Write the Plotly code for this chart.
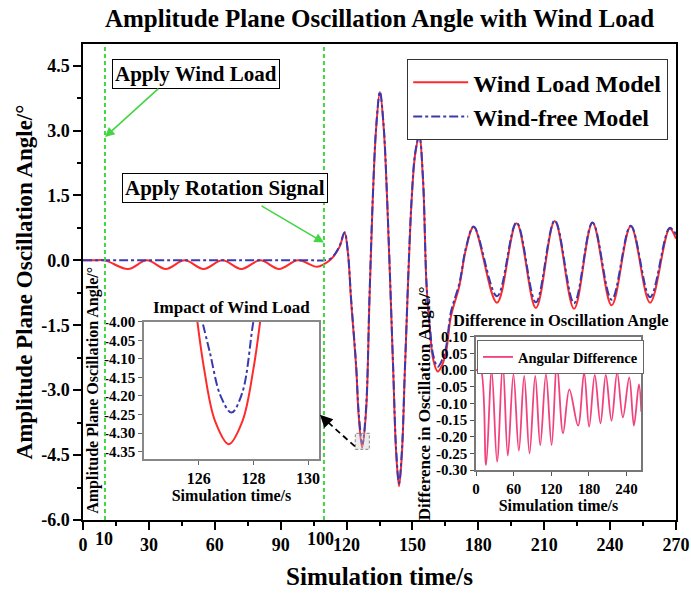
import plotly.graph_objects as go

# ---------------- data ----------------
# Main chart: wind-free model (blue dash-dot)
free_t = [0, 105, 110, 113, 116.7, 119.1, 120.6, 122.1, 124.4, 125.5, 127.2, 128.9, 130.4, 131.9,
          133.5, 135.2, 136.9, 138.5, 141.2, 142.6, 143.9, 145.2, 146.6, 149.6, 151.3, 153.1,
          154.8, 156.4, 157.9, 159.5, 161.5, 163.5, 165.3, 167.5, 171.4, 174.4, 177.9, 188.5,
          197.4, 206.2, 214.8, 223.6, 232.0, 240.7, 249.4, 258.2, 267.1, 270]
free_v = [0, 0, 0, 0.05, 0.32, 0.65, 0.2, -0.91, -2.45, -3.5, -4.245, -3.4, -0.91, 1.4,
          3.1, 3.9, 3.1, 1.4, -2.45, -4.4, -5.15, -4.4, -2.45, 1.4, 2.5, 2.88,
          1.9, -0.52, -1.5, -2.2, -2.46, -2.3, -2.0, -1.2, -0.52, 0.3, 0.78, -0.83,
          0.875, -0.97, 0.92, -0.99, 0.875, -0.91, 0.80, -0.85, 0.75, 0.6]

# Main chart: wind load model (red solid)
wind_t = [0, 5, 10, 20.5, 29.1, 37.7, 46.3, 54.9, 63.5, 72.1, 80.7, 89.3, 97.9, 106.5, 110,
          113, 116.7, 119.1, 120.6, 122.1, 124.4, 125.5, 127.1, 128.9, 130.4, 131.9,
          133.5, 135.2, 136.9, 138.5, 141.2, 142.6, 143.9, 145.2, 146.6, 149.6, 151.3, 153.1,
          154.8, 156.4, 157.9, 159.5, 161.5, 163.5, 165.3, 167.5, 171.4, 174.4, 177.9, 188.5,
          197.4, 206.2, 214.8, 223.6, 232.0, 240.7, 249.4, 258.2, 267.1, 270]
wind_v = [0, 0, 0, -0.2, 0, -0.2, 0, -0.2, 0, -0.2, 0, -0.2, 0, -0.15, -0.08,
          0.03, 0.3, 0.64, 0.18, -0.95, -2.5, -3.58, -4.33, -3.48, -0.97, 1.36,
          3.07, 3.89, 3.07, 1.36, -2.5, -4.47, -5.22, -4.47, -2.5, 1.36, 2.47, 2.87,
          1.86, -0.57, -1.58, -2.3, -2.57, -2.42, -2.12, -1.3, -0.58, 0.27, 0.77, -0.98,
          0.86, -1.1, 0.91, -1.12, 0.87, -1.04, 0.79, -0.98, 0.73, 0.5]

# Left inset (zoom on the trough near 127 s)
zoom_wind_t = [125.8, 126.2, 126.6, 127.1, 127.6, 128.0, 128.4]
zoom_wind_v = [-3.908, -4.128, -4.268, -4.33, -4.268, -4.128, -3.908]
zoom_free_t = [126.0, 126.4, 126.8, 127.2, 127.6, 128.0, 128.2]
zoom_free_v = [-3.96, -4.08, -4.20, -4.245, -4.19, -4.00, -3.93]

# Right inset: angular difference
diff_t = [0, 3, 7.5, 16, 25, 33.6, 42.7, 50.7, 59.7, 68.3, 76.8, 85.3, 94.4, 102.4, 111.5, 120.5,
          129, 138.7, 148.8, 162.7, 172.3, 180.3, 189.3, 198.4, 206.9, 216, 225, 234.1,
          244.3, 251.7, 259.7, 263.5]
diff_v = [0, 0, 0, -0.285, -0.003, -0.275, 0.02, -0.257, -0.013, -0.242, -0.018, -0.25, -0.018,
          -0.225, -0.013, -0.225, 0.018, -0.19, -0.058, -0.167, -0.008, -0.17, -0.015, -0.16,
          -0.015, -0.152, -0.008, -0.142, -0.022, -0.167, -0.043, -0.125]

main_xticks = [0, 30, 60, 90, 120, 150, 180, 210, 240, 270]
main_yticks = [-6.0, -4.5, -3.0, -1.5, 0.0, 1.5, 3.0, 4.5]
main_ytick_labels = ["-6.0", "-4.5", "-3.0", "-1.5", "0.0", "1.5", "3.0", "4.5"]
zoom_xticks = [126, 128, 130]
zoom_yticks = [-4.0, -4.05, -4.1, -4.15, -4.2, -4.25, -4.3, -4.35]
zoom_ytick_labels = ["-4.00", "-4.05", "-4.10", "-4.15", "-4.20", "-4.25", "-4.30", "-4.35"]
diff_xticks = [0, 60, 120, 180, 240]
diff_yticks = [0.10, 0.05, 0.0, -0.05, -0.10, -0.15, -0.20, -0.25, -0.30]
diff_ytick_labels = ["0.10", "0.05", "0.00", "-0.05", "-0.10", "-0.15", "-0.20", "-0.25", "-0.30"]
event_times = [10, 109.7]
event_labels = ["10", "100"]

# ---------------- style ----------------
FONT = "Liberation Serif"
RED = "#FF2A2A"
BLUE = "#3A3AB0"
PINK = "#F2427E"
GREEN = "#44D444"

W, H = 691, 598
ML, MR, MT, MB = 83, 15, 44, 78
PW, PH = W - ML - MR, H - MT - MB


def px(xp):
    return (xp - ML) / PW


def py(yp):
    return (H - MB - yp) / PH


def bfont(size, color="black"):
    return dict(family=FONT, size=size, color=color, weight="bold")


fig = go.Figure()

fig.add_trace(go.Scatter(x=wind_t, y=wind_v, mode="lines", name="Wind Load Model",
                         line=dict(color=RED, width=2, shape="spline"), legend="legend"))
fig.add_trace(go.Scatter(x=free_t, y=free_v, mode="lines", name="Wind-free Model",
                         line=dict(color=BLUE, width=2, dash="dashdot", shape="spline"),
                         legend="legend"))

fig.add_trace(go.Scatter(x=zoom_wind_t, y=zoom_wind_v, mode="lines", showlegend=False,
                         line=dict(color=RED, width=2, shape="spline"),
                         xaxis="x2", yaxis="y2"))
fig.add_trace(go.Scatter(x=zoom_free_t, y=zoom_free_v, mode="lines", showlegend=False,
                         line=dict(color=BLUE, width=2, dash="dashdot", shape="spline"),
                         xaxis="x2", yaxis="y2"))

fig.add_trace(go.Scatter(x=diff_t, y=diff_v, mode="lines", name="Angular Difference",
                         line=dict(color=PINK, width=1.8, shape="spline"),
                         xaxis="x3", yaxis="y3", legend="legend2"))

axis_common = dict(showgrid=False, zeroline=False, showline=True, mirror=True,
                   linecolor="black", linewidth=1.5, ticks="outside", tickcolor="black",
                   automargin=False)


def inset_axis(color, tickcolor):
    return dict(showgrid=False, zeroline=False, showline=True, mirror=True, linecolor=color,
                linewidth=1.5, ticks="outside", ticklen=4, tickcolor=tickcolor,
                automargin=False)


fig.update_layout(
    width=W, height=H,
    margin=dict(l=ML, r=MR, t=MT, b=MB, autoexpand=False),
    paper_bgcolor="white", plot_bgcolor="white",
    title=dict(text="Amplitude Plane Oscillation Angle with Wind Load",
               font=bfont(25), x=0.5, xref="paper", xanchor="center",
               y=1 - 18 / H, yanchor="middle"),
    xaxis=dict(**axis_common, range=[0, 270], tickvals=main_xticks, ticklen=8, tickwidth=1.5,
               tickfont=bfont(18),
               minor=dict(dtick=15, tick0=0, ticks="outside", ticklen=4, tickcolor="black"),
               title=dict(text="Simulation time/s", font=bfont(25), standoff=13)),
    yaxis=dict(**axis_common, range=[-6.0, 5.0], tickvals=main_yticks,
               ticktext=main_ytick_labels, ticklen=8, tickwidth=1.5, tickfont=bfont(18),
               minor=dict(dtick=0.75, tick0=0, ticks="outside", ticklen=4, tickcolor="black"),
               title=dict(text="Amplitude Plane Oscillation Angle/°", font=bfont(23), standoff=2)),
    xaxis2=dict(**inset_axis("#888888", "#666666"),
                domain=[px(144), px(319)], anchor="y2", range=[124.0, 130.4],
                tickvals=zoom_xticks, tickfont=bfont(16),
                title=dict(text="Simulation time/s", font=bfont(16), standoff=4)),
    yaxis2=dict(**inset_axis("#888888", "#666666"),
                domain=[py(459), py(321.7)], anchor="x2", range=[-4.37, -4.0],
                tickvals=zoom_yticks, ticktext=zoom_ytick_labels, tickfont=bfont(15),
                title=dict(text="Amplitude Plane Oscillation Angle/°", font=bfont(16), standoff=1)),
    xaxis3=dict(**inset_axis("#777777", "#555555"),
                domain=[px(476), px(641)], anchor="y3", range=[0, 263],
                tickvals=diff_xticks, tickfont=bfont(15),
                title=dict(text="Simulation time/s", font=bfont(16), standoff=4)),
    yaxis3=dict(**inset_axis("#777777", "#555555"),
                domain=[py(470), py(336.7)], anchor="x3", range=[-0.30, 0.10],
                tickvals=diff_yticks, ticktext=diff_ytick_labels, tickfont=bfont(15),
                title=dict(text="Difference in Oscillation Angle/°", font=bfont(17), standoff=1)),
    legend=dict(x=px(407), y=py(59), xanchor="left", yanchor="top", font=bfont(24),
                bgcolor="white", bordercolor="#333333", borderwidth=1.2, itemwidth=55,
                tracegroupgap=0),
    legend2=dict(x=px(477), y=py(340), xanchor="left", yanchor="top", font=bfont(14.5),
                 bgcolor="white", bordercolor="#666666", borderwidth=1, itemwidth=30),
    showlegend=True,
)

shapes = []
for t in event_times:
    shapes.append(dict(type="line", xref="x", yref="paper", x0=t, x1=t, y0=0, y1=1,
                       line=dict(color=GREEN, width=2, dash="4px,3px"), layer="above"))
# dashed region marker around the trough shown in the left inset
shapes.append(dict(type="rect", xref="x", yref="y", x0=124.0, x1=130.4, y0=-4.37, y1=-4.0,
                   line=dict(color="#999999", width=1.2, dash="3px,2px"),
                   fillcolor="rgba(200,200,200,0.35)"))
# dashed connector from the marker to the inset
shapes.append(dict(type="line", xref="x", yref="y", x0=123.8, y0=-4.30, x1=110.0, y1=-3.67,
                   line=dict(color="black", width=1.8, dash="6px,4px")))
fig.update_layout(shapes=shapes)

annotations = []
# event tick labels (raised, as in the reference)
event_px = [104, 320]
for t, lab, xp in zip(event_times, event_labels, event_px):
    annotations.append(dict(x=px(xp), y=py(539), xref="paper", yref="paper", text=lab,
                            showarrow=False, font=bfont(18), xanchor="center",
                            yanchor="middle"))
# boxed notes with green arrows
annotations.append(dict(x=px(196), y=py(74), xref="paper", yref="paper", text="Apply Wind Load",
                        showarrow=False, font=bfont(21), bgcolor="white", bordercolor="black",
                        borderwidth=1, borderpad=2, xanchor="center", yanchor="middle"))
annotations.append(dict(x=10, y=2.85, xref="x", yref="y", ax=35, ay=4.0, axref="x", ayref="y",
                        text="", showarrow=True, arrowhead=2, arrowsize=1.2, arrowwidth=1.6,
                        arrowcolor=GREEN))
annotations.append(dict(x=px(225), y=py(188), xref="paper", yref="paper",
                        text="Apply Rotation Signal", showarrow=False, font=bfont(21),
                        bgcolor="white", bordercolor="black", borderwidth=1, borderpad=2,
                        xanchor="center", yanchor="middle"))
annotations.append(dict(x=109.7, y=0.41, xref="x", yref="y", ax=80.6, ay=1.28, axref="x",
                        ayref="y", text="", showarrow=True, arrowhead=2, arrowsize=1.2,
                        arrowwidth=1.6, arrowcolor=GREEN))
# black arrow head of the connector
annotations.append(dict(x=107.9, y=-3.566, xref="x", yref="y", ax=111.5, ay=-3.75, axref="x",
                        ayref="y", text="", showarrow=True, arrowhead=2, arrowsize=1.4,
                        arrowwidth=1.8, arrowcolor="black"))
# inset titles
annotations.append(dict(x=px(231), y=py(307), xref="paper", yref="paper",
                        text="Impact of Wind Load", showarrow=False, font=bfont(17),
                        xanchor="center", yanchor="middle"))
annotations.append(dict(x=px(561), y=py(321), xref="paper", yref="paper",
                        text="Difference in Oscillation Angle", showarrow=False, font=bfont(16.5),
                        xanchor="center", yanchor="middle"))
fig.update_layout(annotations=annotations)

fig.write_html("out.html", config={"displayModeBar": False},
               post_script="document.body.style.margin='0';document.body.style.padding='0';")
